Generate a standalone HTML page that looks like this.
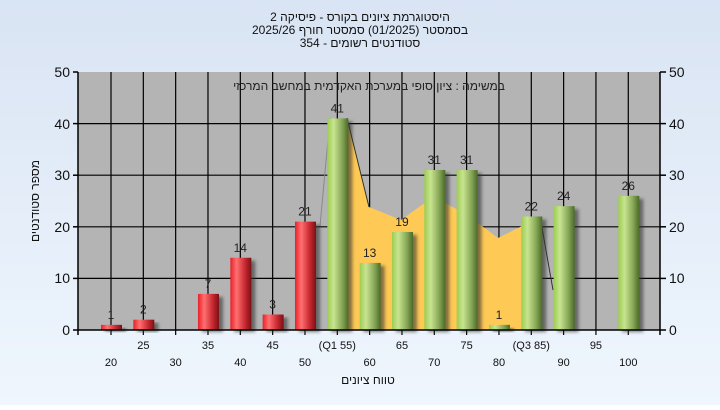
<!DOCTYPE html>
<html><head><meta charset="utf-8"><style>
body{margin:0;width:720px;height:405px;overflow:hidden;font-family:"Liberation Sans","DejaVu Sans",sans-serif;}
</style></head><body>
<svg width="720" height="405" xmlns="http://www.w3.org/2000/svg" font-family="Liberation Sans, DejaVu Sans, sans-serif">
<defs>
<linearGradient id="bg" x1="0" y1="0" x2="0" y2="1"><stop offset="0" stop-color="#d9e4f4"/><stop offset="1" stop-color="#eff6fd"/></linearGradient>
<linearGradient id="red" x1="0" y1="0" x2="1" y2="0"><stop offset="0" stop-color="#e8202a"/><stop offset="0.3" stop-color="#ff7070"/><stop offset="0.7" stop-color="#c82830"/><stop offset="1" stop-color="#7a1015"/></linearGradient>
<linearGradient id="grn" x1="0" y1="0" x2="1" y2="0"><stop offset="0" stop-color="#9ccc50"/><stop offset="0.3" stop-color="#c8e490"/><stop offset="0.7" stop-color="#88a858"/><stop offset="1" stop-color="#4a6a28"/></linearGradient>
<filter id="sh" x="-20%" y="-5%" width="160%" height="115%"><feGaussianBlur stdDeviation="1.5"/></filter>
</defs>
<rect width="720" height="405" fill="url(#bg)"/>
<g font-size="12" fill="#111" text-anchor="middle">
<text x="360" y="21">היסטוגרמת ציונים בקורס - פיסיקה 2</text>
<text x="360" y="34">בסמסטר  (01/2025)  סמסטר חורף 2025/26</text>
<text x="360" y="47">סטודנטים רשומים - 354</text>
</g>
<rect x="78" y="72" width="582" height="258" fill="#b4b4b4"/>
<g stroke="#000" stroke-width="1.2">
<line x1="78" y1="123.6" x2="660" y2="123.6"/><line x1="78" y1="175.2" x2="660" y2="175.2"/><line x1="78" y1="226.8" x2="660" y2="226.8"/><line x1="78" y1="278.4" x2="660" y2="278.4"/>
</g>
<g stroke="#000" stroke-width="1.2" id="vg"></g>
<polygon points="347,118 369,207 401,220 433,197 466,214 498,238 530,222 530,330 347,330" fill="#ffc955"/>
<line x1="320" y1="226" x2="330" y2="118" stroke="#888" stroke-width="1"/>
<line x1="347" y1="118" x2="369" y2="207" stroke="#333" stroke-width="1"/>
<line x1="541" y1="222" x2="553" y2="290" stroke="#333" stroke-width="1"/>
<g id="bars"></g>
<text x="369" y="90" font-size="12" text-anchor="middle" fill="#222">במשימה : ציון סופי במערכת האקדמית במחשב המרכזי</text>
<g stroke="#000" stroke-width="1.5" fill="none">
<line x1="78" y1="72" x2="78" y2="335"/><line x1="660" y1="72" x2="660" y2="335"/><line x1="78" y1="330" x2="660" y2="330"/>
<line x1="73" y1="72" x2="78" y2="72"/><line x1="73" y1="123.6" x2="78" y2="123.6"/><line x1="73" y1="175.2" x2="78" y2="175.2"/><line x1="73" y1="226.8" x2="78" y2="226.8"/><line x1="73" y1="278.4" x2="78" y2="278.4"/><line x1="73" y1="330" x2="78" y2="330"/>
<line x1="660" y1="72" x2="666" y2="72"/><line x1="660" y1="123.6" x2="666" y2="123.6"/><line x1="660" y1="175.2" x2="666" y2="175.2"/><line x1="660" y1="226.8" x2="666" y2="226.8"/><line x1="660" y1="278.4" x2="666" y2="278.4"/><line x1="660" y1="330" x2="666" y2="330"/>
</g>
<g font-size="14" fill="#111">
<g text-anchor="end"><text x="70" y="77">50</text><text x="70" y="129">40</text><text x="70" y="180">30</text><text x="70" y="232">20</text><text x="70" y="283">10</text><text x="70" y="335">0</text></g>
<g><text x="669" y="77">50</text><text x="669" y="129">40</text><text x="669" y="180">30</text><text x="669" y="232">20</text><text x="669" y="283">10</text><text x="669" y="335">0</text></g>
</g>
<g id="xl" font-size="11" fill="#111" text-anchor="middle"></g>
<text x="368" y="384" font-size="12" text-anchor="middle" fill="#111">טווח ציונים</text>
<text transform="translate(39,201) rotate(-90)" font-size="12" text-anchor="middle" fill="#111">מספר סטודנטים</text>
<script>
var ns="http://www.w3.org/2000/svg";
function el(p,t,a,txt){var e=document.createElementNS(ns,t);for(var k in a)e.setAttribute(k,a[k]);if(txt!=null)e.textContent=txt;document.getElementById(p).appendChild(e);}
var vals={20:1,25:2,30:0,35:7,40:14,45:3,50:21,55:41,60:13,65:19,70:31,75:31,80:1,85:22,90:24,95:0,100:26};
var i=0;
for(var v=20;v<=100;v+=5){
 var x=111+(v-20)/5*32.33;
 el("vg","line",{x1:x,y1:72,x2:x,y2:335});
 var n=vals[v];
 if(n>0){var h=n*5.16,y=330-h;
  el("bars","rect",{x:x-6,y:y+3,width:21,height:h-1,fill:"#333",opacity:0.6,filter:"url(#sh)"});
  el("bars","rect",{x:x-10,y:y,width:21,height:h,fill:v<55?"url(#red)":"url(#grn)"});
  el("bars","text",{x:x,y:y-6,"font-size":12,"text-anchor":"middle",fill:"#222"},n);}
 var lab=v==55?"(Q1 55)":v==85?"(Q3 85)":String(v);
 el("xl","text",{x:x,y:(i%2==0)?366:349},lab);
 i++;
}
</script>
</svg>
</body></html>
